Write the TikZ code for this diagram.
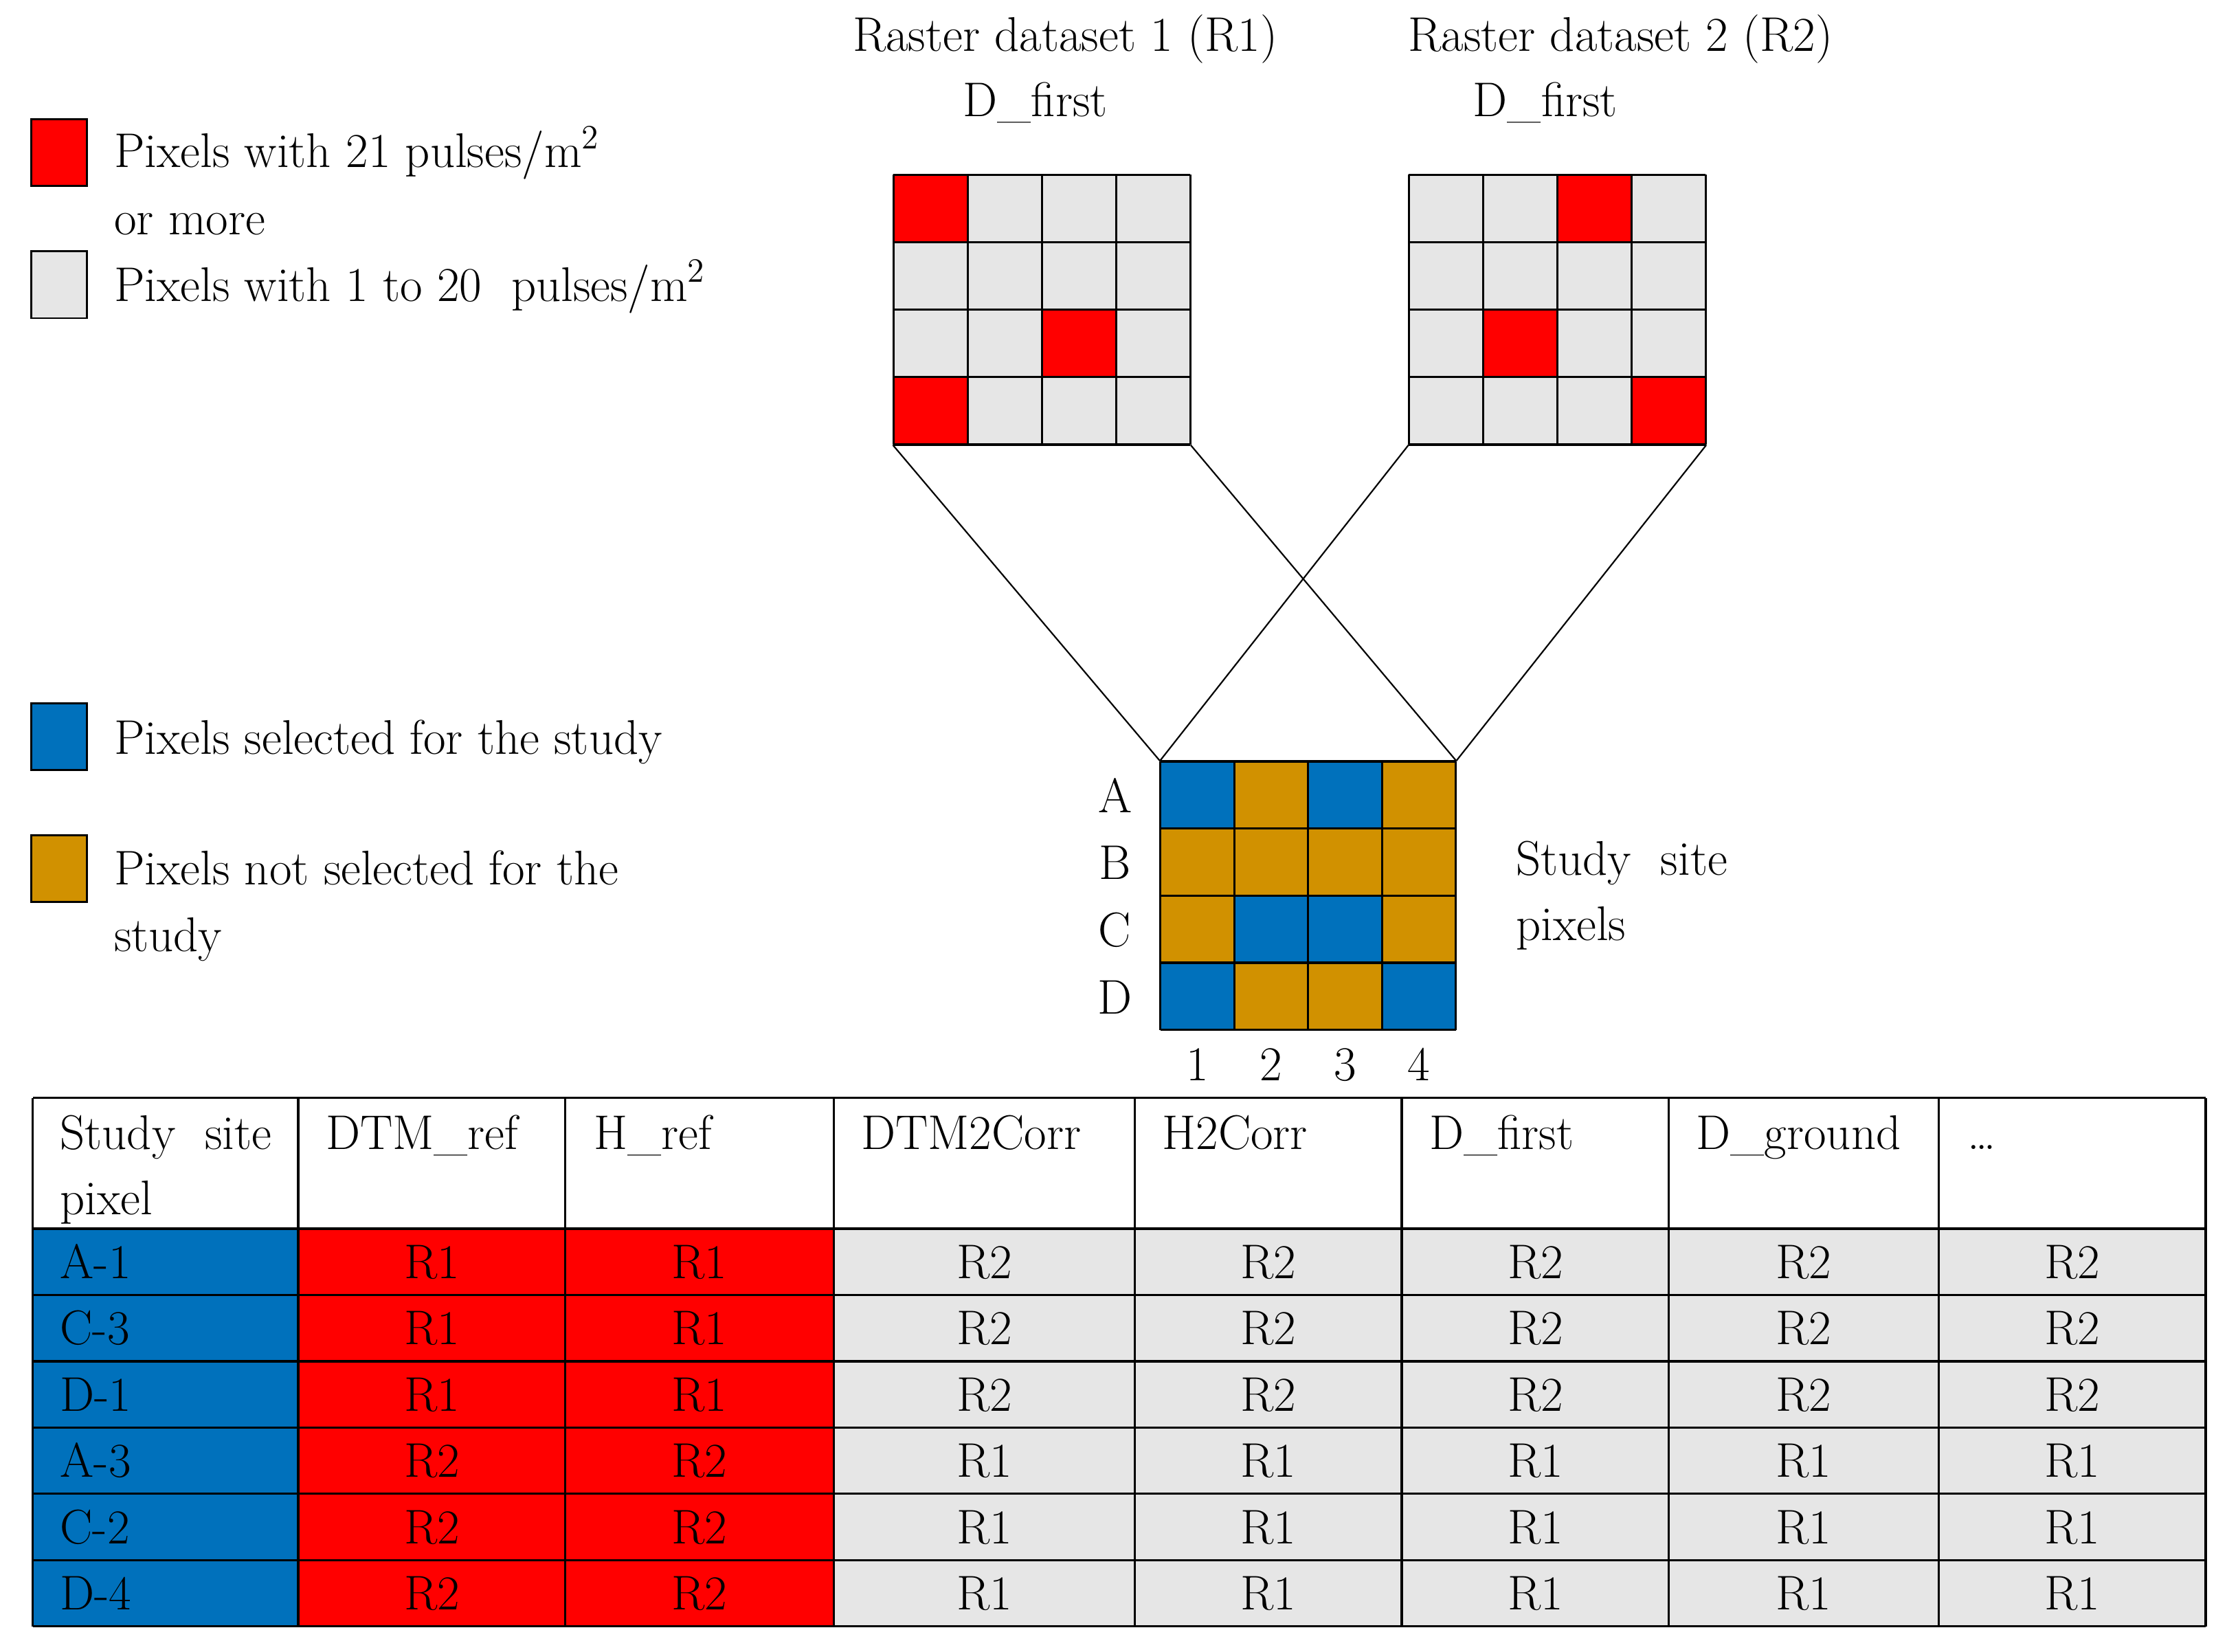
\documentclass[tikz,border=0pt]{standalone}
\usepackage{fontspec}
\definecolor{cred}{RGB}{255,0,0}
\definecolor{cgray}{RGB}{230,230,230}
\definecolor{cblue}{RGB}{0,113,188}
\definecolor{corange}{RGB}{209,145,0}
\begin{document}
\begin{tikzpicture}[x=0.02cm,y=-0.02cm,
  font=\fontsize{19.5}{23}\selectfont,
  lbl/.style={anchor=base west, inner sep=0pt},
  ctr/.style={anchor=base, inner sep=0pt},
  swatch/.style={draw=black, line width=0.8pt, minimum width=0.78cm, minimum height=0.94cm, inner sep=0pt},
  frame/.style={inner sep=0pt, minimum width=4.18cm, minimum height=3.8cm},
  gridline/.style={draw=black, line width=0.9pt},
  link/.style={draw=black, line width=0.6pt}]
\useasboundingbox (0,0) rectangle (1568,1163);

% ---------- legend ----------
\node[swatch, fill=cred]    (sw1) at (41.5,107.5) {};
\node[swatch, fill=cgray]   (sw2) at (41.5,200.5) {};
\node[swatch, fill=cblue]   (sw3) at (41.5,518.5) {};
\node[swatch, fill=corange] (sw4) at (41.5,611.5) {};
\node[lbl] (l1a) at (80,118) {Pixels with 21 pulses/m\textsuperscript{2}};
\node[lbl] (l1b) at (80,165) {or more};
\node[lbl] (l2)  at (80,212) {Pixels with 1 to 20\ \ pulses/m\textsuperscript{2}};
\node[lbl] (l3)  at (80,531) {Pixels selected for the study};
\node[lbl] (l4a) at (80,623) {Pixels not selected for the};
\node[lbl] (l4b) at (80,670) {study};

% ---------- titles ----------
\node[ctr] (t1) at (750,36) {Raster dataset 1 (R1)};
\node[ctr] (t1b) at (729,82) {D\_first};
\node[ctr] (t2) at (1141,36) {Raster dataset 2 (R2)};
\node[ctr] (t2b) at (1088,82) {D\_first};

% ---------- raster grid 1 ----------
\node[frame] (g1) at (733.5,218) {};
\fill[cgray] (629,123) rectangle (838,313);
\foreach \c/\r in {0/0,2/2,0/3}
  \fill[cred] ({629+\c*52.25},{123+\r*47.5}) rectangle ++(52.25,47.5);
\foreach \i in {0,...,4} {
  \draw[gridline] ({629+\i*52.25},123) -- ++(0,190);
  \draw[gridline] (629,{123+\i*47.5}) -- ++(209,0);
}

% ---------- raster grid 2 ----------
\node[frame] (g2) at (1096.5,218) {};
\fill[cgray] (992,123) rectangle (1201,313);
\foreach \c/\r in {2/0,1/2,3/3}
  \fill[cred] ({992+\c*52.25},{123+\r*47.5}) rectangle ++(52.25,47.5);
\foreach \i in {0,...,4} {
  \draw[gridline] ({992+\i*52.25},123) -- ++(0,190);
  \draw[gridline] (992,{123+\i*47.5}) -- ++(209,0);
}

% ---------- study site grid ----------
\node[frame, minimum width=4.16cm, minimum height=3.78cm] (ss) at (921,630.5) {};
\fill[corange] (817,536) rectangle (1025,725);
\foreach \c/\r in {0/0,2/0,1/2,2/2,0/3,3/3}
  \fill[cblue] ({817+\c*52},{536+\r*47.25}) rectangle ++(52,47.25);
\foreach \i in {0,...,4} {
  \draw[gridline] ({817+\i*52},536) -- ++(0,189);
  \draw[gridline] (817,{536+\i*47.25}) -- ++(208,0);
}
\foreach \L [count=\i from 0] in {A,B,C,D}
  \node[ctr] (row\L) at (785,{572+\i*47.25}) {\L};
\foreach \n [count=\i from 0] in {1,2,3,4}
  \node[ctr] (col\n) at ({843+\i*52},761) {\n};
\node[lbl] (ssl1) at (1067,616) {Study\ \ site};
\node[lbl] (ssl2) at (1067,662) {pixels};

% ---------- connectors ----------
\draw[link] (g1.south west) -- (ss.north west);
\draw[link] (g1.south east) -- (ss.north east);
\draw[link] (g2.south west) -- (ss.north west);
\draw[link] (g2.south east) -- (ss.north east);

% ---------- table ----------
\fill[cblue] (23,865) rectangle (210,1145);
\fill[cred]  (210,865) rectangle (587,1145);
\fill[cgray] (587,865) rectangle (1553,1145);
\foreach \x in {23,210,398,587,799,987,1175,1365,1553}
  \draw[gridline] (\x,773) -- (\x,1145);
\foreach \y in {773,865,911.67,958.33,1005,1051.67,1098.33,1145}
  \draw[gridline] (23,\y) -- (1553,\y);

\node[lbl] (h0a) at (42,809) {Study\ \ site};
\node[lbl] (h0b) at (42,855) {pixel};
\node[lbl] (h1) at (229,809) {DTM\_ref};
\node[lbl] (h2) at (418,809) {H\_ref};
\node[lbl] (h3) at (606,809) {DTM2Corr};
\node[lbl] (h4) at (818,809) {H2Corr};
\node[lbl] (h5) at (1006,809) {D\_first};
\node[lbl] (h6) at (1194,809) {D\_ground};
\node[lbl] (h7) at (1385,809) {\dots};

\foreach \lab/\a/\b [count=\i from 0] in {A-1/R1/R2, C-3/R1/R2, D-1/R1/R2, A-3/R2/R1, C-2/R2/R1, D-4/R2/R1} {
  \pgfmathsetmacro\yb{865+\i*46.667+35}
  \node[lbl] (r\i-0) at (42,\yb) {\lab};
  \node[ctr] (r\i-1) at (304,\yb) {\a};
  \node[ctr] (r\i-2) at (492.5,\yb) {\a};
  \foreach \xc [count=\j from 3] in {693,893,1081,1270,1459}
    \node[ctr] (r\i-\j) at (\xc,\yb) {\b};
}
\end{tikzpicture}
\end{document}
